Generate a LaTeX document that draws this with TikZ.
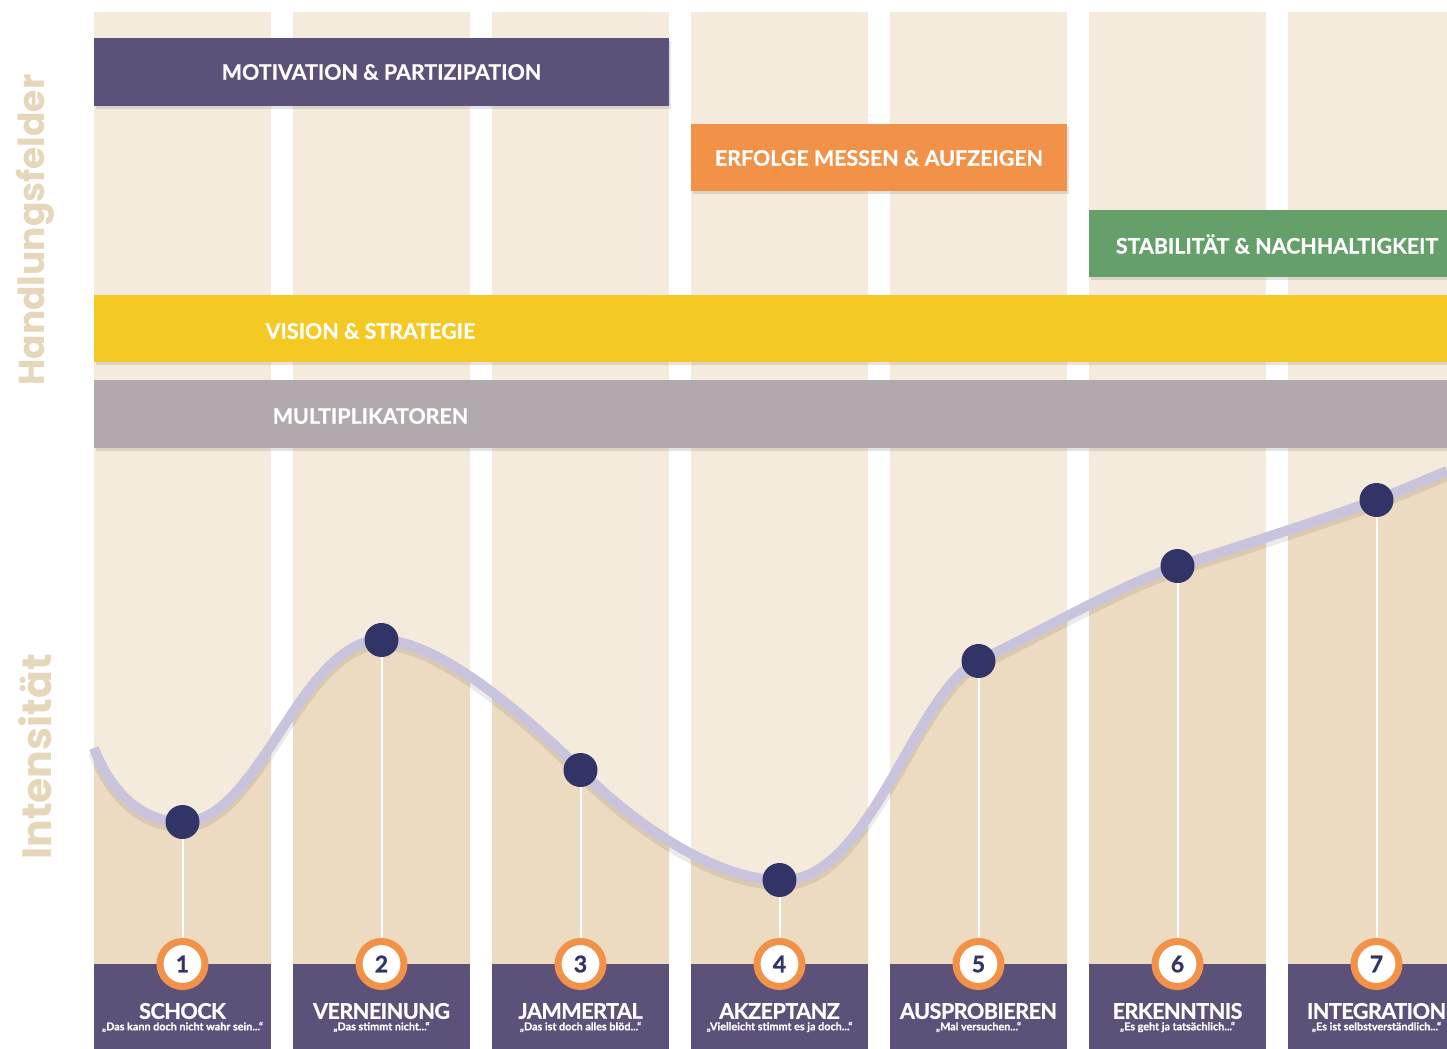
\documentclass[tikz,border=0pt]{standalone}
\usepackage{fontspec}
\setmainfont{Lato}[BoldFeatures={FakeBold=0.6}]
\newfontfamily\tightfont{Lato}[LetterSpace=-2.5,BoldFeatures={FakeBold=0.9}]
\newfontfamily\axisfont{Poppins}
\usetikzlibrary{shadows}
\definecolor{colbg}{HTML}{F5EBDC}
\definecolor{colfill}{HTML}{ECDBC1}
\definecolor{purp}{HTML}{5C5178}
\definecolor{orng}{HTML}{F29148}
\definecolor{grn}{HTML}{65A06B}
\definecolor{yel}{HTML}{F5C924}
\definecolor{gry}{HTML}{B1A9AE}
\definecolor{lav}{HTML}{C9C4DD}
\definecolor{navy}{HTML}{323366}
\definecolor{axiscol}{HTML}{E6D7BA}
\begin{document}
\begin{tikzpicture}[x=0.5pt,y=-0.5pt,
 band/.style={fill=#1, drop shadow={opacity=0.22,shadow xshift=1pt,shadow yshift=-1.5pt}},
 bandtext/.style={text=white, font=\fontsize{10.7}{12}\selectfont\bfseries, inner sep=0},
 dot/.style={circle, fill=navy, minimum size=17pt, inner sep=0},
 numc/.style={circle, fill=white, draw=orng, line width=3.5pt, minimum size=22.5pt, inner sep=0, text=navy, font=\tightfont\fontsize{11.5}{11.5}\selectfont\bfseries},
 stem/.style={white, line width=1pt},
 stagetitle/.style={text=white, font=\tightfont\fontsize{10.8}{12}\selectfont\bfseries, inner sep=0},
 stagequote/.style={text=white, font=\fontsize{5.4}{6}\selectfont\bfseries, inner sep=0},
 axislabel/.style={text=axiscol, font=\axisfont\fontsize{#1}{20}\selectfont\bfseries, rotate=90, inner sep=0},
]
\fill[white] (0,0) rectangle (1447,1049);
\useasboundingbox (0,0) rectangle (1447,1049);

% columns
\foreach \i in {0,...,5} \fill[colbg] ({94+199*\i},12) rectangle ({94+199*\i+177},964);
\fill[colbg] (1288,12) rectangle (1447,964);

% area under the curve
\begin{scope}
\clip (94,12) rectangle (271,964) (293,12) rectangle (470,964) (492,12) rectangle (669,964)
      (691,12) rectangle (868,964) (890,12) rectangle (1067,964) (1089,12) rectangle (1266,964)
      (1288,12) rectangle (1447,964);
\fill[colfill] (94,748) .. controls (110,790) and (140,822) .. (182.5,822)
  .. controls (260,822) and (300,640) .. (381.5,640)
  .. controls (440,640) and (530,720) .. (580.5,770)
  .. controls (640,830) and (720,880) .. (779.5,880)
  .. controls (870,885) and (915,690) .. (978.5,661)
  .. controls (1030,637) and (1120,585) .. (1177.5,566)
  .. controls (1250,543) and (1320,520) .. (1376.5,500)
  .. controls (1400,491) and (1425,480) .. (1447,471)
  -- (1447,964) -- (94,964) -- cycle;
\end{scope}

% curve shadow and curve
\draw[black, opacity=0.08, line width=6pt, yshift=-2pt] (94,748) .. controls (110,790) and (140,822) .. (182.5,822)
  .. controls (260,822) and (300,640) .. (381.5,640)
  .. controls (440,640) and (530,720) .. (580.5,770)
  .. controls (640,830) and (720,880) .. (779.5,880)
  .. controls (870,885) and (915,690) .. (978.5,661)
  .. controls (1030,637) and (1120,585) .. (1177.5,566)
  .. controls (1250,543) and (1320,520) .. (1376.5,500)
  .. controls (1400,491) and (1425,480) .. (1447,471);
\draw[lav, line width=5pt] (94,748) .. controls (110,790) and (140,822) .. (182.5,822)
  .. controls (260,822) and (300,640) .. (381.5,640)
  .. controls (440,640) and (530,720) .. (580.5,770)
  .. controls (640,830) and (720,880) .. (779.5,880)
  .. controls (870,885) and (915,690) .. (978.5,661)
  .. controls (1030,637) and (1120,585) .. (1177.5,566)
  .. controls (1250,543) and (1320,520) .. (1376.5,500)
  .. controls (1400,491) and (1425,480) .. (1447,471);

% dots
\node[dot] (d1) at (182.5,822) {};
\node[dot] (d2) at (381.5,640) {};
\node[dot] (d3) at (580.5,770) {};
\node[dot] (d4) at (779.5,880) {};
\node[dot] (d5) at (978.5,661) {};
\node[dot] (d6) at (1177.5,566) {};
\node[dot] (d7) at (1376.5,500) {};

% bands
\fill[band=purp] (94,38) rectangle (669,106);
\node[bandtext] (b1) at (381.5,72) {MOTIVATION \& PARTIZIPATION};
\fill[band=orng] (691,124) rectangle (1067,191);
\node[bandtext] (b2) at (879,158) {ERFOLGE MESSEN \& AUFZEIGEN};
\fill[band=grn] (1089,210) rectangle (1447,277);
\node[bandtext] (b3) at (1277,244) {STABILITÄT \& NACHHALTIGKEIT};
\fill[band=yel] (94,295) rectangle (1447,362);
\node[bandtext] (b4) at (370.5,331) {VISION \& STRATEGIE};
\fill[band=gry] (94,380) rectangle (1447,448);
\node[bandtext] (b5) at (370.5,416) {MULTIPLIKATOREN};

% stage boxes
\foreach \i in {0,...,5} \fill[purp] ({94+199*\i},964) rectangle ({94+199*\i+177},1049);
\fill[purp] (1288,964) rectangle (1447,1049);

\node[stagetitle] (t1) at (182.5,1011) {SCHOCK};
\node[stagequote] (q1) at (182.5,1027) {„Das kann doch nicht wahr sein...“};
\node[stagetitle] (t2) at (381.5,1011) {VERNEINUNG};
\node[stagequote] (q2) at (381.5,1027) {„Das stimmt nicht...“};
\node[stagetitle] (t3) at (580.5,1011) {JAMMERTAL};
\node[stagequote] (q3) at (580.5,1027) {„Das ist doch alles blöd...“};
\node[stagetitle] (t4) at (779.5,1011) {AKZEPTANZ};
\node[stagequote] (q4) at (779.5,1027) {„Vielleicht stimmt es ja doch...“};
\node[stagetitle] (t5) at (978.5,1011) {AUSPROBIEREN};
\node[stagequote] (q5) at (978.5,1027) {„Mal versuchen...“};
\node[stagetitle] (t6) at (1177.5,1011) {ERKENNTNIS};
\node[stagequote] (q6) at (1177.5,1027) {„Es geht ja tatsächlich...“};
\node[stagetitle] (t7) at (1376.5,1011) {INTEGRATION};
\node[stagequote] (q7) at (1376.5,1027) {„Es ist selbstverständlich...“};

% number circles
\node[numc] (n1) at (182.5,964) {1};
\node[numc] (n2) at (381.5,964) {2};
\node[numc] (n3) at (580.5,964) {3};
\node[numc] (n4) at (779.5,964) {4};
\node[numc] (n5) at (978.5,964) {5};
\node[numc] (n6) at (1177.5,964) {6};
\node[numc] (n7) at (1376.5,964) {7};

% stems
\foreach \k in {1,...,7} \draw[stem] (d\k) -- (n\k);

% axis labels
\node[axislabel=18] (ax1) at (35,230) {Handlungsfelder};
\node[axislabel=20.5] (ax2) at (35,757) {Intensität};
\end{tikzpicture}
\end{document}
